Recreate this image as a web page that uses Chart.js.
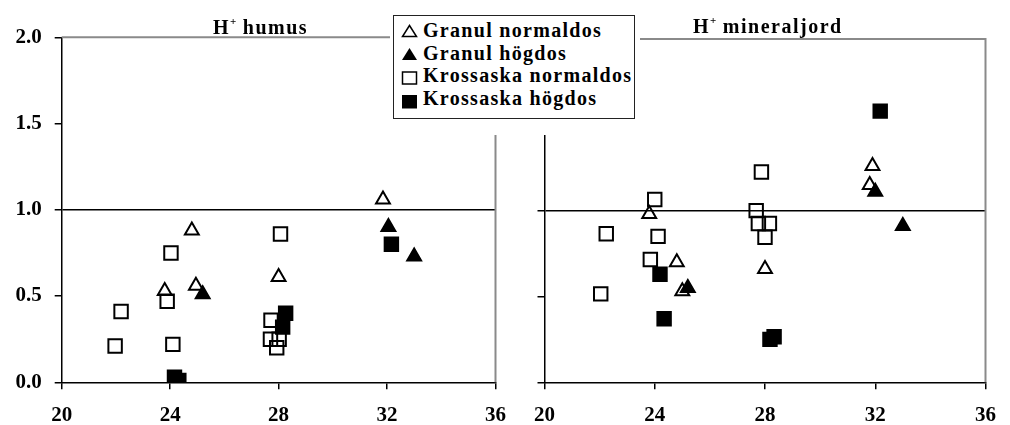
<!DOCTYPE html>
<html>
<head>
<meta charset="utf-8">
<script src="https://cdn.jsdelivr.net/npm/chart.js@4/dist/chart.umd.min.js"></script>
<style>
  html, body { margin: 0; padding: 0; background: #fff; }
  #wrap { position: relative; width: 1010px; height: 425px; overflow: hidden;
          font-family: 'Liberation Serif', 'Times New Roman', serif; font-weight: bold; color: #000; }
  canvas { position: absolute; top: 0; }
  #cHumus { left: 0; }
  #cMineral { left: 520px; }
  .title { position: absolute; font-size: 20px; line-height: 20px; letter-spacing: 1.5px; white-space: nowrap; }
  .title sup { font-size: 11px; vertical-align: 9px; line-height: 0; letter-spacing: 0; }
  #cover { position: absolute; left: 390px; top: 0; width: 250px; height: 135px; background: #fff; }
  #legend { position: absolute; left: 393px; top: 15px; width: 240px; height: 102px;
            border: 1px solid #222; background: #fff; }
  #legend .lbl { position: absolute; left: 29px; font-size: 20px; line-height: 20px;
                 letter-spacing: 1.3px; white-space: nowrap; }
  #legend svg { position: absolute; left: 7px; }
</style>
</head>
<body>
<div id="wrap">
  <canvas id="cHumus" width="520" height="425"></canvas>
  <canvas id="cMineral" width="490" height="425"></canvas>
  <div class="title" style="left:213px; top:16.5px;">H<sup>+</sup> humus</div>
  <div class="title" style="left:693px; top:15.5px;">H<sup>+</sup> mineraljord</div>
  <div id="cover"></div>
  <div id="legend">
    <svg style="top:8px" width="17" height="14"><polygon points="8.5,1.5 15.5,12.5 1.5,12.5" fill="none" stroke="#000" stroke-width="1.5"/></svg>
    <div class="lbl" style="top:4px">Granul normaldos</div>
    <svg style="top:31px" width="17" height="14"><polygon points="8.5,1 16,13 1,13" fill="#000"/></svg>
    <div class="lbl" style="top:26.6px">Granul högdos</div>
    <svg style="top:55px" width="17" height="14"><rect x="1.5" y="1" width="14" height="12" fill="none" stroke="#000" stroke-width="1.5"/></svg>
    <div class="lbl" style="top:49px">Krossaska normaldos</div>
    <svg style="top:78px" width="17" height="15"><rect x="1" y="1" width="15" height="13.5" fill="#000"/></svg>
    <div class="lbl" style="top:72.3px">Krossaska högdos</div>
  </div>
</div>
<script>
// Axis tick values shared by both panels
const xTickValues = [20, 24, 28, 32, 36];
const yTickValues = [0, 0.5, 1.0, 1.5, 2.0];

// Series labels
const seriesNames = ['Granul normaldos', 'Granul högdos', 'Krossaska normaldos', 'Krossaska högdos'];

// H+ humus panel: [x, y] pairs per series
const humusGranulNormal = [[31.85, 1.06], [24.8, 0.88], [28.0, 0.61], [23.8, 0.53], [24.95, 0.56]];
const humusGranulHigh   = [[32.05, 0.90], [33.0, 0.73], [25.2, 0.51]];
const humusKrossNormal  = [[28.07, 0.86], [24.03, 0.75], [23.89, 0.47], [22.19, 0.41], [21.97, 0.21],
                           [24.1, 0.22], [27.72, 0.36], [27.7, 0.25], [28.02, 0.25], [27.93, 0.20]];
const humusKrossHigh    = [[32.16, 0.80], [24.16, 0.03], [24.32, 0.01], [28.26, 0.40], [28.15, 0.32]];

// H+ mineraljord panel: [x, y] pairs per series
const mineralGranulNormal = [[31.9, 1.26], [31.8, 1.15], [23.8, 0.98], [24.8, 0.70], [28.0, 0.66], [25.0, 0.53]];
const mineralGranulHigh   = [[32.0, 1.11], [33.0, 0.91], [25.2, 0.55]];
const mineralKrossNormal  = [[27.87, 1.225], [24.0, 1.065], [27.68, 1.0], [27.76, 0.925], [28.16, 0.925],
                             [28.0, 0.845], [22.24, 0.865], [24.12, 0.85], [23.84, 0.715], [22.04, 0.515]];
const mineralKrossHigh    = [[32.18, 1.58], [24.19, 0.63], [24.34, 0.37], [28.18, 0.25], [28.33, 0.265]];

const toPoints = arr => arr.map(([x, y]) => ({ x, y }));

// marker styles per series
const seriesStyles = [
  { pointStyle: 'triangle', pointRadius: 8,   backgroundColor: 'rgba(0,0,0,0)', order: 2 },
  { pointStyle: 'triangle', pointRadius: 8,   backgroundColor: '#000',          order: 1 },
  { pointStyle: 'rect',     pointRadius: 9.5, backgroundColor: 'rgba(0,0,0,0)', order: 3 },
  { pointStyle: 'rect',     pointRadius: 9.5, backgroundColor: '#000',          order: 0 }
];

function buildDatasets(seriesList) {
  return seriesList.map((arr, i) => ({
    label: seriesNames[i],
    data: toPoints(arr),
    pointStyle: seriesStyles[i].pointStyle,
    pointRadius: seriesStyles[i].pointRadius,
    pointBackgroundColor: seriesStyles[i].backgroundColor,
    pointBorderColor: '#000',
    pointBorderWidth: 2,
    order: seriesStyles[i].order
  }));
}

// serif bold for all chart text
Chart.defaults.font.family = "'Liberation Serif', 'Times New Roman', serif";
Chart.defaults.font.weight = 'bold';
Chart.defaults.font.size = 21;
Chart.defaults.color = '#000';

// grey frame on top and right of the plotting area
const framePlugin = {
  id: 'frame',
  beforeDatasetsDraw(chart) {
    const { ctx, chartArea: a } = chart;
    ctx.save();
    ctx.strokeStyle = '#8a8a8a';
    ctx.lineWidth = 2;
    ctx.beginPath();
    ctx.moveTo(a.left, a.top);
    ctx.lineTo(a.right, a.top);
    ctx.lineTo(a.right, a.bottom);
    ctx.stroke();
    ctx.restore();
  }
};

function makePanel(canvasId, seriesList, layout) {
  return new Chart(document.getElementById(canvasId), {
    type: 'scatter',
    data: { datasets: buildDatasets(seriesList) },
    options: {
      responsive: false,
      animation: false,
      devicePixelRatio: 1,
      events: [],
      layout: { autoPadding: false, padding: { top: layout.top, right: layout.right, left: 0, bottom: 0 } },
      plugins: { legend: { display: false }, tooltip: { enabled: false } },
      scales: {
        x: {
          type: 'linear',
          min: xTickValues[0],
          max: xTickValues[xTickValues.length - 1],
          afterBuildTicks: s => { s.ticks = xTickValues.map(v => ({ value: v })); },
          afterFit: s => { s.height = 42.7; },
          ticks: { color: '#000', padding: 14, autoSkip: false, maxRotation: 0,
                   callback: v => String(v) },
          grid: { drawOnChartArea: false, color: '#000', tickColor: '#000', tickLength: 7, lineWidth: 1.5 },
          border: { color: '#000', width: 1.5 }
        },
        y: {
          type: 'linear',
          min: yTickValues[0],
          max: yTickValues[yTickValues.length - 1],
          afterBuildTicks: s => { s.ticks = yTickValues.map(v => ({ value: v })); },
          afterFit: s => { s.width = layout.yWidth; },
          ticks: { display: layout.yLabels, color: '#000', padding: 13,
                   callback: v => v.toFixed(1) },
          grid: {
            color: c => (c.tick && c.tick.value === 1) ? '#000' : 'rgba(0,0,0,0)',
            tickColor: '#000', tickLength: 7, lineWidth: 1.5
          },
          border: { color: '#000', width: 1.5 }
        }
      }
    },
    plugins: [framePlugin]
  });
}

makePanel('cHumus',
  [humusGranulNormal, humusGranulHigh, humusKrossNormal, humusKrossHigh],
  { top: 37.3, right: 20, yWidth: 61.7, yLabels: true });
makePanel('cMineral',
  [mineralGranulNormal, mineralGranulHigh, mineralKrossNormal, mineralKrossHigh],
  { top: 39, right: 13.3, yWidth: 19.3, yLabels: false });
</script>
</body>
</html>
